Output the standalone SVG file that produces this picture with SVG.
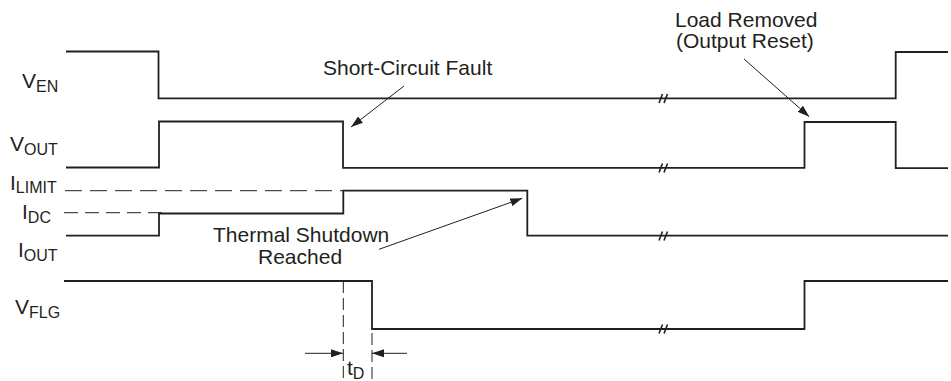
<svg xmlns="http://www.w3.org/2000/svg" width="951" height="381" viewBox="0 0 951 381">
<defs>
<marker id="ah" markerWidth="12" markerHeight="8" refX="12" refY="4" orient="auto" markerUnits="userSpaceOnUse">
<path d="M0,0 L12,4 L0,8 Z" fill="#231f20"/>
</marker>
<style>
.sig{fill:none;stroke:#231f20;stroke-width:1.8}
.dash{fill:none;stroke:#231f20;stroke-width:1}
.arr{fill:none;stroke:#231f20;stroke-width:1}
.brk{fill:none;stroke:#231f20;stroke-width:1.6}
text{font-family:"Liberation Sans",Arial,sans-serif;fill:#231f20;font-size:21px}
.sub{font-size:16px}
</style>
</defs>
<rect width="951" height="381" fill="#fff"/>
<g id="labels">
<text x="22" y="88">V<tspan class="sub" dy="4">EN</tspan></text>
<text x="10" y="151">V<tspan class="sub" dy="4">OUT</tspan></text>
<text x="10" y="190">I<tspan class="sub" dy="3">LIMIT</tspan></text>
<text x="22" y="219">I<tspan class="sub" dy="4">DC</tspan></text>
<text x="18" y="257">I<tspan class="sub" dy="4">OUT</tspan></text>
<text x="15" y="314">V<tspan class="sub" dy="4">FLG</tspan></text>
</g>
<g id="waveforms">
<path id="ven" class="sig" d="M66,51.5 H158.5 V98.3 H895.7 V52 H948"/>
<path id="vout" class="sig" d="M66,167.5 H159 V121.5 H343 V167.8 H804.5 V122 H895.7 V168.2 H948"/>
<path id="iout" class="sig" d="M66,235.7 H159 V213.5 H343.3 V190.7 H527.3 V235.7 H948"/>
<path id="vflg" class="sig" d="M64,281 H372 V329 H804.5 V281 H948"/>
</g>
<g id="levels">
<path class="dash" stroke-dasharray="17 8" d="M65,190.7 H343"/>
<path class="dash" stroke-dasharray="14 7" d="M64,212.7 H163"/>
<path class="dash" stroke-dasharray="12 5" d="M343.3,281 V381"/>
<path class="dash" stroke-dasharray="12 5" d="M372,333 V381"/>
</g>
<g id="breaks">
<path class="brk" d="M659,103 L662.5,94 M664,103 L667.5,94"/>
<path class="brk" d="M659,172.5 L662.5,163.5 M664,172.5 L667.5,163.5"/>
<path class="brk" d="M659,240.5 L662.5,231.5 M664,240.5 L667.5,231.5"/>
<path class="brk" d="M659,333.5 L662.5,324.5 M664,333.5 L667.5,324.5"/>
</g>
<g id="connectors">
<line class="arr" x1="404" y1="86" x2="351" y2="127" marker-end="url(#ah)"/>
<line class="arr" x1="379" y1="249.3" x2="522.3" y2="198.3" marker-end="url(#ah)"/>
<line class="arr" x1="744" y1="59" x2="809.3" y2="116.7" marker-end="url(#ah)"/>
<line class="arr" x1="305" y1="353.3" x2="343" y2="353.3" marker-end="url(#ah)"/>
<line class="arr" x1="407" y1="353.3" x2="372" y2="353.3" marker-end="url(#ah)"/>
</g>
<g id="annotations">
<text id="sc" x="323" y="75">Short-Circuit Fault</text>
<text id="ts1" x="213" y="242.3">Thermal Shutdown</text>
<text id="ts2" x="258" y="264.3">Reached</text>
<text id="lr1" x="675" y="26.7">Load Removed</text>
<text id="lr2" x="676" y="48.3">(Output Reset)</text>
<text id="td" x="347" y="375">t<tspan class="sub" dy="4">D</tspan></text>
</g>
</svg>
